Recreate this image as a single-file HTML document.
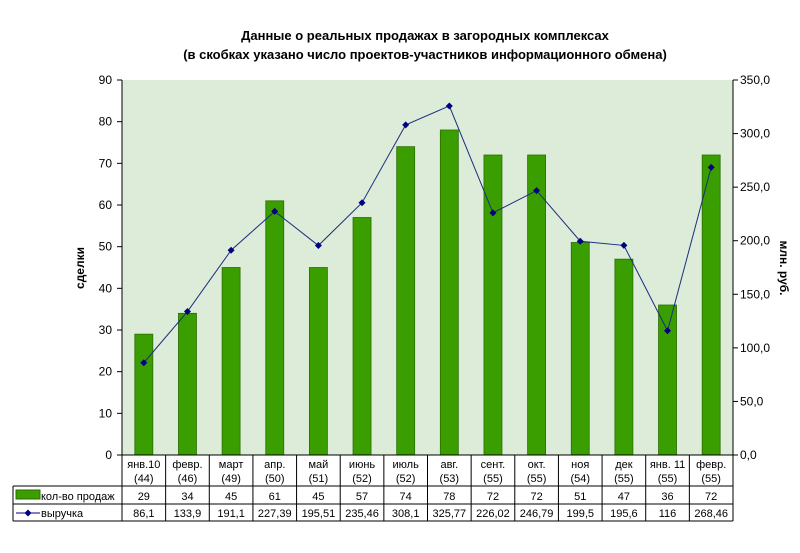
<!DOCTYPE html>
<html><head><meta charset="utf-8"><style>
body{margin:0;background:#fff;font-family:"Liberation Sans",sans-serif}
svg text{font-family:"Liberation Sans",sans-serif}
</style></head><body>
<svg id="c" width="800" height="548" xmlns="http://www.w3.org/2000/svg">
<text x="425" y="40" text-anchor="middle" font-size="13" font-weight="bold">Данные о реальных продажах в загородных комплексах</text>
<text x="425" y="59" text-anchor="middle" font-size="13" font-weight="bold">(в скобках указано число проектов-участников информационного обмена)</text>
<rect x="122" y="80" width="611" height="375" fill="#dcecd8"/>
<g id="g"></g>
<text transform="translate(84,268) rotate(-90)" text-anchor="middle" font-size="12" font-weight="bold">сделки</text>
<text transform="translate(780,268) rotate(90)" text-anchor="middle" font-size="12" font-weight="bold">млн. руб.</text>
</svg>
<script>
const cats=["янв.10","февр.","март","апр.","май","июнь","июль","авг.","сент.","окт.","ноя","дек","янв. 11","февр."];
const projects=["44","46","49","50","51","52","52","53","55","55","54","55","55","55"];
const sales=[29,34,45,61,45,57,74,78,72,72,51,47,36,72];
const revenue=[86.1,133.9,191.1,227.39,195.51,235.46,308.1,325.77,226.02,246.79,199.5,195.6,116,268.46];
const revenueLabels=["86,1","133,9","191,1","227,39","195,51","235,46","308,1","325,77","226,02","246,79","199,5","195,6","116","268,46"];
const leftTicks=[0,10,20,30,40,50,60,70,80,90];
const rightTicks=["0,0","50,0","100,0","150,0","200,0","250,0","300,0","350,0"];
const L=122,R=733,T=80,B=455,N=cats.length,cw=(R-L)/N;
const yL=v=>B-(v/90)*(B-T), yR=v=>B-(v/350)*(B-T), xc=i=>L+cw*(i+0.5);
const g=document.getElementById('g'),NS="http://www.w3.org/2000/svg";
function mk(t,a,txt){const e=document.createElementNS(NS,t);for(const k in a)e.setAttribute(k,a[k]);if(txt!==undefined)e.textContent=txt;g.appendChild(e);return e;}
leftTicks.forEach(v=>{
 let l=mk('line',{x1:L-5,x2:L,y1:yL(v),y2:yL(v),stroke:'#000'});
 
 
 let t=mk('text',{x:L-10,y:yL(v)+4,'text-anchor':'end','font-size':12},String(v));
 
 
});
rightTicks.forEach((s,i)=>{
 const v=i*50;
 let l=mk('line',{x1:R,x2:R+5,y1:yR(v),y2:yR(v),stroke:'#000'});
 
 
 let t=mk('text',{x:R+7,y:yR(v)+4,'font-size':12},s);
 
 
});
sales.forEach((v,i)=>{
 let b=mk('rect',{x:xc(i)-9,y:yL(v),width:18,height:B-yL(v),fill:'#3a9e00',stroke:'#2a6e00','stroke-width':0.8});
 
 
});
let line=mk('polyline',{points:revenue.map((v,i)=>xc(i)+','+yR(v)).join(' '),fill:'none',stroke:'#1a2e80','stroke-width':1});


revenue.forEach((v,i)=>{
 const x=xc(i),y=yR(v);
 let p=mk('polygon',{points:`${x},${y-3.5} ${x+3.5},${y} ${x},${y+3.5} ${x-3.5},${y}`,fill:'#000080'});
 
 
});
let a1=mk('line',{x1:L,x2:L,y1:T,y2:B,stroke:'#000'});
let a2=mk('line',{x1:R,x2:R,y1:T,y2:B,stroke:'#000'});
// table
const r1=486,r2=504,r3=521;
let hl=[[L,R,B],[13,R,r1],[13,R,r2],[13,R,r3]];
hl.forEach(h=>{let l=mk('line',{x1:h[0],x2:h[1],y1:h[2],y2:h[2],stroke:'#000'});});
let vl=mk('line',{x1:13,x2:13,y1:r1,y2:r3,stroke:'#000'});
for(let i=0;i<=N;i++){let x=L+cw*i;let l=mk('line',{x1:x,x2:x,y1:B,y2:r3,stroke:'#000'});}
cats.forEach((c,i)=>{
 let t=mk('text',{x:xc(i),y:468,'text-anchor':'middle','font-size':11},c);
 
 let p=mk('text',{x:xc(i),y:482,'text-anchor':'middle','font-size':11},'('+projects[i]+')');
 
 let s=mk('text',{x:xc(i),y:500,'text-anchor':'middle','font-size':11},String(sales[i]));
 
 let r=mk('text',{x:xc(i),y:517,'text-anchor':'middle','font-size':11},revenueLabels[i]);
 
});
let lk=mk('rect',{x:16,y:490,width:24,height:9,fill:'#3a9e00',stroke:'#2a6e00'});
let lt=mk('text',{x:41,y:500,'font-size':11},'кол-во продаж');
let ll=mk('line',{x1:16,x2:40,y1:513,y2:513,stroke:'#000080'});
let ld=mk('polygon',{points:'28,509.5 31.5,513 28,516.5 24.5,513',fill:'#000080'});
let lt2=mk('text',{x:41,y:517,'font-size':11},'выручка');
</script>
</body></html>
